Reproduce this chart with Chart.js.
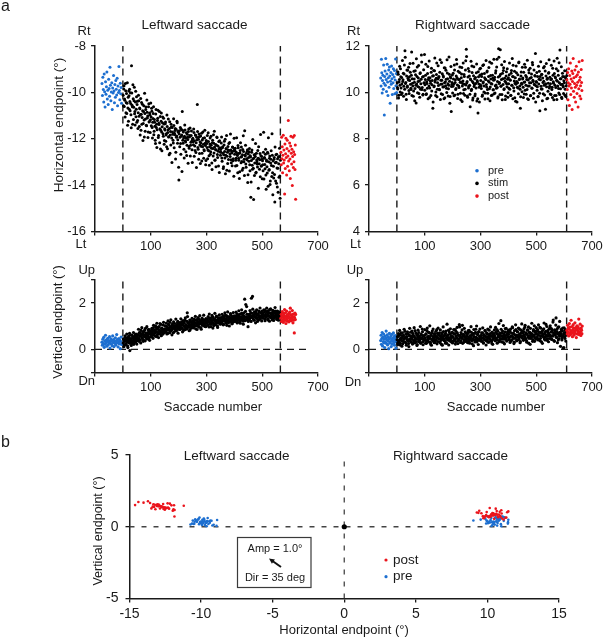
<!DOCTYPE html>
<html lang="en">
<head>
<meta charset="UTF-8"/>
<title>Saccade endpoints during stimulation</title>
<style>
  html, body { margin: 0; padding: 0; background: #fff; overflow: hidden; }
  #wrap { position: relative; width: 603px; height: 640px; overflow: hidden; }
  #wrap canvas { position: absolute; left: 0; top: 0; }
</style>
</head>
<body>
<div id="wrap">
  <canvas id="cTL" width="660" height="640"></canvas>
  <canvas id="cTR" width="660" height="640"></canvas>
  <canvas id="cBL" width="660" height="640"></canvas>
  <canvas id="cBR" width="660" height="640"></canvas>
  <canvas id="cB" width="660" height="640"></canvas>
</div>
<script src="https://cdn.jsdelivr.net/npm/chart.js@4.4.1/dist/chart.umd.min.js"></script>
<script>
// ---- data: saccade numbers (first + step per saccade) and endpoints (deg) ----
const leftPreStart = -75, leftPreStep = 1.6;
const leftOddStart = 1, leftEvenStart = 2, stimStep = 2;
const leftPostStart = 567, leftPostStep = 1.2;
const rightPreStart = -58, rightPreStep = 1.3;
const rightOddStart = 1, rightEvenStart = 2;
const rightPostStart = 610, rightPostStep = 1.25;
const leftDividers = [0, 565];
const rightDividers = [0, 609];
const zeroLineX = [-100, 670];

const leftPreH = [-9.62,-10.14,-9.35,-9.88,-10.41,-9.21,-9.97,-10.63,-9.54,-10.08,-9.76,-9.12,-10.29,-9.91,-10.52,-9.43,-9.83,-10.17,-8.92,-9.69,-10.36,-9.98,-9.58,-10.74,-9.81,-10.03,-9.27,-9.94,-10.45,-9.66,-10.21,-9.49,-9.87,-10.11,-9.39,-10.58,-9.73,-10.01,-8.88,-9.92,-10.32,-9.61,-10.06,-9.79,-10.47];
const leftPreV = [0.31,0.18,0.44,0.25,0.52,0.09,0.36,0.22,0.61,0.29,0.41,0.14,0.34,0.48,0.2,0.38,0.27,0.55,0.06,0.33,0.45,0.23,0.39,0.16,0.58,0.3,0.42,0.12,0.35,0.26,0.5,0.19,0.37,0.64,0.28,0.43,0.11,0.32,0.47,0.24,0.4,0.03,0.34,0.53,0.21];

// odd-numbered stimulation saccades (1, 3, ... 565)
const leftOddH = [
  -10.12,-9.85,-10.61,-10.34,-9.62,-10.88,-10.05,-10.47,-11.42,-10.21,-9.94,-10.73,-10.39,-10.02,-10.96,-8.85,-10.55,-11.38,-10.27,-10.64,-9.78,-10.83,-10.41,-11.05,-10.19,
  -10.52,-11.21,-10.88,-10.36,-11.47,-10.71,-10.95,-11.63,-10.44,-11.08,-10.79,-11.34,-10.58,-11.92,-10.91,-11.15,-10.63,-11.44,-10.86,-11.02,-11.71,-10.49,-11.26,-10.97,-11.18,
  -11.05,-10.68,-11.52,-11.29,-10.91,-11.83,-11.17,-11.46,-12.21,-10.74,-11.38,-11.61,-11.12,-11.95,-11.33,-10.82,-11.57,-12.44,-11.24,-11.71,-11.48,-11.06,-11.89,-11.36,-12.08,
  -11.62,-11.28,-11.84,-12.35,-11.47,-11.73,-11.15,-11.91,-11.56,-12.62,-11.69,-11.38,-11.97,-11.52,-11.81,-12.18,-11.43,-11.76,-11.64,-12.87,-11.59,-11.88,-11.31,-12.04,-11.72,
  -13.78,-11.66,-11.93,-12.21,-11.58,-11.84,-10.82,-12.06,-11.71,-12.45,-11.89,-11.62,-12.14,-11.97,-12.72,-11.81,-12.03,-11.69,-12.33,-11.92,-11.54,-12.28,-11.86,-12.11,-13.02,
  -11.98,-12.26,-11.73,-12.09,-12.51,-11.85,-12.17,-11.94,-10.52,-12.38,-12.02,-11.79,-12.64,-12.13,-11.88,-12.32,-12.96,-12.05,-11.71,-12.24,-12.47,-11.96,-12.19,-13.12,-12.08,
  -12.21,-11.86,-12.48,-12.12,-12.73,-12.34,-11.97,-12.56,-12.28,-13.05,-12.17,-12.42,-11.83,-12.61,-12.36,-12.92,-12.25,-12.49,-11.92,-12.68,-12.31,-13.18,-12.43,-12.09,-12.57,
  -12.46,-12.18,-12.83,-12.39,-12.62,-13.21,-12.27,-12.55,-12.02,-12.71,-12.44,-13.36,-12.58,-12.33,-12.89,-12.51,-12.16,-12.77,-12.48,-13.04,-12.61,-12.36,-12.95,-12.53,-11.98,
  -12.67,-12.41,-12.93,-12.58,-13.15,-12.72,-12.29,-12.84,-12.63,-13.42,-12.51,-12.79,-12.36,-12.98,-12.69,-13.27,-12.55,-12.88,-11.65,-12.74,-13.09,-12.62,-12.91,-12.47,-13.55,
  -12.81,-12.56,-13.12,-12.73,-14.52,-12.94,-12.48,-13.31,-12.86,-14.62,-12.69,-13.05,-12.77,-13.48,-12.62,-12.99,-13.22,-12.84,-12.35,-13.08,-12.91,-13.64,-12.73,-13.17,-12.88,
  -12.95,-13.38,-11.72,-12.84,-13.11,-12.67,-13.56,-12.92,-13.21,-12.58,-14.05,-12.99,-13.33,-12.74,-13.82,-12.88,-13.15,-11.78,-13.47,-12.96,-13.69,-12.81,-14.73,-13.04,-12.69,-13.92,-13.26,-12.86,-14.31,-13.08,-12.77,-13.61,-12.93
];
// even-numbered stimulation saccades (2, 4, ... 564)
const leftEvenH = [
  -10.58,-9.71,-10.29,-11.06,-9.93,-10.44,-10.91,-9.58,-10.67,-11.24,-10.15,-9.86,-10.79,-10.48,-11.53,-10.03,-10.62,-9.67,-11.17,-10.36,-10.92,-11.41,-9.95,-10.73,-11.29,
  -10.38,-11.56,-10.12,-11.03,-10.67,-11.84,-10.26,-10.94,-11.37,-10.51,-12.08,-10.83,-11.19,-10.04,-11.68,-10.74,-11.42,-10.33,-11.11,-11.95,-10.62,-11.28,-10.89,-11.73,-10.46,
  -11.44,-10.81,-11.97,-11.13,-10.62,-11.68,-11.29,-12.06,-10.93,-11.52,-12.38,-11.21,-10.77,-11.86,-11.39,-12.17,-11.04,-11.63,-10.89,-12.52,-11.31,-11.78,-11.12,-12.24,-11.57,
  -11.35,-12.11,-11.78,-10.98,-12.43,-11.61,-11.92,-12.69,-11.27,-11.84,-12.27,-11.49,-13.02,-11.71,-12.06,-11.14,-12.39,-11.83,-11.56,-12.58,-11.93,-11.25,-12.19,-11.68,-13.23,
  -11.79,-12.34,-11.52,-12.67,-11.88,-13.41,-11.63,-12.19,-11.97,-12.83,-11.41,-12.09,-12.56,-11.74,-12.28,-11.93,-13.06,-11.58,-12.41,-11.86,-12.74,-12.15,-11.67,-12.47,-12.02,
  -12.13,-11.58,-12.76,-12.31,-11.84,-12.59,-13.24,-12.04,-11.69,-12.45,-12.88,-11.91,-12.27,-13.07,-12.18,-11.76,-12.63,-12.35,-11.98,-12.84,-12.52,-11.63,-12.29,-12.94,-12.11,
  -12.38,-12.86,-11.74,-12.52,-13.14,-12.23,-12.67,-11.89,-12.41,-13.33,-12.07,-12.74,-12.19,-11.68,-12.93,-12.46,-13.21,-12.28,-11.95,-12.81,-12.54,-12.12,-13.46,-12.39,-12.71,
  -12.58,-11.92,-12.97,-12.34,-13.28,-12.69,-12.11,-12.83,-13.51,-12.42,-11.86,-12.76,-13.07,-12.49,-12.21,-13.39,-12.65,-11.79,-12.91,-12.53,-13.16,-12.37,-12.86,-13.62,-12.44,
  -12.52,-13.18,-12.84,-11.96,-12.67,-13.47,-12.39,-12.93,-13.71,-12.61,-12.17,-13.04,-12.78,-13.36,-12.46,-11.87,-12.99,-13.58,-12.71,-12.28,-13.23,-12.86,-12.54,-13.89,-12.66,
  -12.97,-12.42,-13.38,-12.79,-13.86,-12.58,-13.14,-12.03,-13.27,-12.83,-13.59,-12.68,-12.21,-13.45,-12.92,-13.09,-12.51,-14.13,-12.86,-13.31,-12.64,-11.82,-13.18,-12.77,-13.72,
  -13.12,-12.58,-13.74,-12.81,-13.29,-12.45,-14.18,-12.97,-13.48,-12.63,-11.96,-13.36,-12.84,-13.97,-13.05,-12.52,-13.63,-12.71,-14.41,-13.19,-12.88,-13.54,-12.36,-13.82,-13.01,-12.67,-14.08,-13.27,-12.79,-13.66,-12.41,-14.57
];
const leftOddV = [
  0.28,0.41,0.19,0.35,0.52,0.24,0.38,0.46,0.15,0.33,0.57,0.29,-0.05,0.44,0.36,0.61,0.27,0.49,0.39,0.22,0.55,0.43,0.31,0.66,0.47,
  0.52,0.38,0.64,0.47,0.73,0.56,0.41,0.82,0.59,0.49,0.68,0.35,0.77,0.61,0.54,0.91,0.63,0.46,0.72,0.58,0.85,0.66,0.51,0.79,0.69,
  0.74,0.58,0.86,0.69,0.93,0.62,0.81,0.71,1.02,0.77,0.55,0.88,0.73,0.96,0.67,0.84,1.12,0.79,0.64,0.91,0.76,0.83,1.05,0.72,0.87,
  0.89,0.74,1.01,0.83,0.95,0.69,1.08,0.86,0.92,1.17,0.78,0.97,0.84,1.04,0.91,0.72,0.99,1.13,0.87,0.94,0.81,1.06,0.96,1.21,0.89,
  0.98,1.11,0.86,1.03,0.94,1.19,0.91,1.07,0.82,1.14,0.99,1.26,0.93,1.05,0.88,1.58,1.01,1.16,0.95,1.09,0.84,1.22,1.03,0.97,1.13,
  1.08,0.93,1.21,1.04,1.15,0.89,1.27,1.11,1.02,1.34,1.17,0.96,1.09,1.23,1.13,0.87,1.19,1.06,1.29,1.14,1.01,1.25,1.12,0.98,1.18,
  1.16,1.28,1.04,1.21,0.97,1.33,1.14,1.25,1.09,1.38,1.19,0.92,1.27,1.12,1.31,1.06,1.24,1.41,1.17,1.02,1.29,1.15,1.36,1.22,1.11,
  1.26,1.12,1.35,1.21,1.43,1.08,1.31,1.24,1.47,1.18,1.29,1.04,1.38,1.27,1.15,1.42,1.33,1.21,1.51,1.25,1.11,1.36,1.28,1.19,1.45,
  1.32,1.21,1.44,1.29,1.53,1.17,1.38,1.26,1.49,1.34,1.13,1.41,1.28,1.56,1.35,1.22,1.46,1.31,2.17,1.39,1.94,1.27,1.52,1.36,0.98,
  1.41,1.29,1.52,1.37,1.58,2.21,1.44,2.29,1.33,1.49,1.26,1.55,1.42,1.63,1.35,1.47,1.21,1.53,1.39,1.61,1.45,1.31,1.57,1.43,1.66,
  1.48,1.36,1.59,1.44,1.69,1.31,1.52,1.41,1.63,1.47,1.27,1.56,1.43,1.72,1.38,1.54,1.49,1.34,1.61,1.46,1.25,1.57,1.42,1.66,1.51,1.37,1.59,1.45,1.33,1.62,1.48,1.41,1.55
];
const leftEvenV = [
  0.45,0.12,0.37,0.58,0.21,0.43,0.66,0.31,0.08,0.51,0.39,0.69,0.26,0.47,0.17,0.62,0.34,0.55,0.73,0.29,0.48,0.64,0.36,0.57,0.23,
  0.63,0.44,0.87,0.35,0.59,0.71,0.28,0.66,0.94,0.49,0.76,0.41,0.58,0.83,0.37,0.69,0.52,0.98,0.6,0.45,0.74,0.86,0.39,0.67,0.55,
  0.62,0.91,0.79,0.48,1.04,0.68,0.83,0.57,0.95,0.75,1.13,0.64,0.87,0.51,0.99,0.78,0.69,1.08,0.59,0.92,0.81,0.66,1.17,0.74,0.85,
  1.02,0.79,1.14,0.67,0.94,1.23,0.83,1.05,0.72,0.97,1.28,0.85,0.63,1.1,0.92,1.19,0.76,1.03,0.88,1.31,0.81,0.99,1.15,0.7,1.07,
  0.87,1.16,1.04,1.32,0.91,1.09,0.76,1.24,1.01,1.18,0.85,1.36,1.07,0.94,1.21,1.42,0.99,1.13,0.81,1.27,1.05,1.19,0.92,1.34,1.11,
  1.22,0.97,1.31,1.14,1.43,1.02,1.26,0.86,1.19,1.37,1.08,1.29,1.46,1.12,0.94,1.24,1.35,1.05,1.18,1.48,1.09,1.27,0.99,1.33,1.16,
  1.31,1.07,1.42,1.19,1.53,1.1,1.34,0.98,1.26,1.47,1.15,1.38,1.03,1.29,1.56,1.21,1.12,1.44,1.27,0.95,1.36,1.18,1.49,1.24,1.09,
  1.37,1.16,1.52,1.29,1.06,1.41,1.24,1.58,1.33,1.13,1.46,1.27,1.62,1.19,1.39,1.01,1.35,1.55,1.22,1.44,1.11,1.31,1.59,1.26,1.4,
  1.43,1.25,1.61,1.36,1.14,1.5,1.31,1.67,1.4,1.19,1.54,1.33,1.71,1.28,1.47,1.09,1.58,1.37,1.24,1.64,1.41,1.85,1.3,1.52,1.21,
  1.49,1.32,1.68,1.43,1.21,1.57,1.38,1.74,1.46,1.27,1.62,1.4,1.15,1.55,1.71,1.34,1.51,1.26,1.66,1.44,1.79,1.37,1.59,1.23,1.48,
  1.53,1.35,1.71,1.46,1.24,1.64,1.42,1.78,1.5,1.31,1.67,1.44,1.22,1.58,1.75,1.39,1.55,1.28,1.69,1.47,1.36,1.62,1.81,1.43,1.57,1.3,1.65,1.49,1.26,1.6,1.38,1.52
];

const leftPostH = [-12.58,-13.12,-11.93,-12.86,-12.34,-13.47,-12.71,-11.85,-13.05,-12.49,-12.92,-14.38,-12.23,-13.28,-12.65,-11.98,-12.81,-13.56,-12.42,-12.07,-13.19,-12.74,-11.21,-12.96,-12.53,-13.38,-12.18,-12.87,-13.71,-12.31,-11.89,-12.62,-13.09,-12.45,-14.02,-12.77,-11.94,-13.24,-12.56,-12.99,-11.86,-12.68,-13.33,-12.27,-14.61];
const leftPostV = [1.35,1.52,1.21,1.44,1.63,1.28,1.41,1.17,1.56,1.33,1.47,1.72,1.25,1.38,1.59,1.12,1.43,1.66,1.3,1.49,1.22,1.37,1.46,1.54,1.19,1.4,1.61,1.27,1.78,1.34,1.5,1.24,1.45,1.31,1.68,1.39,1.15,1.53,1.26,1.42,0.71,1.36,1.57,1.29,1.51];

const rightPreH = [10.62,10.27,11.43,10.85,9.97,10.51,10.74,10.13,11.18,10.39,9.02,10.68,10.92,10.31,11.46,10.56,10.04,10.79,11.21,10.45,9.86,10.63,10.97,10.22,11.09,10.71,9.53,10.48,10.86,10.35,11.14,10.59,9.91,10.77,10.41,11.02,10.17,10.66,10.94,9.94,10.53,11.44,10.29,10.81,9.99];
const rightPreV = [0.38,0.61,0.22,0.47,0.73,0.15,0.52,0.34,0.66,0.28,0.44,0.08,0.57,0.31,0.49,0.79,0.25,0.42,0.63,0.19,0.54,0.36,0.03,0.46,0.69,0.27,0.5,0.33,0.58,0.12,0.41,0.65,0.23,0.48,0.37,0.71,0.29,0.55,0.18,0.43,0.6,0.32,0.05,0.51,0.39];

// odd-numbered (1 ... 609) and even-numbered (2 ... 608) stimulation saccades
const rightOddH = [
  10.42,10.15,10.78,9.88,10.56,10.31,11.02,10.19,10.64,9.97,10.47,10.83,10.26,11.18,11.79,10.38,9.92,10.71,10.22,10.95,10.53,10.08,10.67,11.24,10.35,
  10.12,11.74,10.59,10.28,9.83,10.91,10.44,10.17,10.76,9.54,10.36,11.09,10.25,10.62,9.95,10.49,10.81,10.13,10.57,11.31,10.21,9.89,10.68,10.4,11.63,
  10.33,10.74,9.91,10.46,10.18,11.12,10.55,10.27,9.78,10.63,10.39,10.87,10.06,10.51,9.31,10.72,10.24,10.93,10.45,9.86,10.61,11.27,10.14,10.58,10.3,
  10.69,10.11,11.41,10.35,9.94,10.52,10.8,10.23,10.66,9.73,10.41,11.05,10.29,10.57,9.99,10.84,10.37,10.16,11.53,10.48,9.82,10.62,9.17,10.34,10.75,
  10.26,10.58,9.85,10.97,10.43,10.12,10.71,11.22,10.32,9.92,10.55,10.21,10.86,10.44,9.68,10.63,11.07,10.28,10.49,9.95,10.77,10.35,10.14,11.36,11.86,
  10.42,9.84,10.66,10.19,10.91,10.31,9.38,10.54,10.08,11.14,10.47,9.76,10.72,10.25,10.59,9.93,10.38,10.85,9.63,10.46,9.11,10.67,10.22,11.01,10.33,
  10.51,10.17,10.79,9.89,10.4,11.19,10.27,10.63,9.97,10.56,10.34,10.88,10.12,9.72,10.69,10.45,11.31,10.23,10.58,9.86,10.36,10.74,10.11,10.52,9.94,
  10.65,10.29,10.93,10.18,11.43,10.47,9.81,11.88,10.38,10.71,11.84,10.26,10.55,9.91,10.82,10.34,11.06,10.16,10.61,9.69,10.43,10.89,10.24,10.57,9.98,
  10.37,10.76,10.13,10.52,9.88,10.94,10.31,10.68,11.17,10.2,10.49,9.77,10.63,10.35,10.85,9.59,10.42,10.19,11.28,10.56,10.28,9.31,10.71,10.39,10.03,
  10.58,10.22,10.87,9.93,10.45,11.08,10.31,10.66,10.12,9.72,10.53,10.96,10.27,10.61,9.85,10.41,10.79,10.18,11.19,10.47,9.96,10.35,10.73,11.68,10.29,
  10.44,10.09,10.68,9.82,10.36,10.91,9.21,10.54,10.26,10.77,10.15,10.62,9.94,10.48,11.12,10.33,9.27,10.71,10.24,10.57,9.75,10.39,10.86,10.19,10.65,
  10.37,9.91,10.58,10.22,11.04,10.46,9.68,10.81,10.31,10.63,9.86,10.52,11.47,10.28,10.74,9.97,10.41,11.83,10.16,10.59,9.79,10.35,10.69,10.23,10.5,
  10.41,9.88,10.63,10.29,10.72
];
const rightEvenH = [
  10.21,10.88,9.76,10.45,11.13,10.02,10.67,9.91,10.36,11.37,10.54,9.83,10.79,10.14,11.52,10.43,9.69,10.96,10.28,10.61,11.08,9.95,10.51,10.87,10.18,
  10.74,9.87,10.39,11.26,10.06,10.58,9.64,10.93,10.31,11.45,10.69,9.98,10.47,11.16,10.22,9.79,10.85,10.37,11.61,10.12,10.66,9.92,10.98,10.42,10.09,
  10.56,11.21,9.94,10.38,10.81,9.72,10.63,11.35,10.19,10.49,9.86,11.04,10.33,10.71,9.58,10.94,10.27,11.48,10.53,10.02,10.77,9.81,10.41,11.15,10.64,
  10.13,10.87,9.69,10.52,11.29,10.36,9.91,10.72,10.24,11.06,9.77,10.46,10.95,10.18,11.41,10.59,9.84,10.31,10.78,9.53,10.67,11.12,10.25,10.43,9.97,
  10.82,10.35,11.18,9.89,10.54,10.17,11.42,10.63,9.74,10.91,10.28,10.56,11.09,9.96,10.44,10.79,9.61,10.38,11.27,10.11,10.68,9.88,10.97,10.32,11.55,
  10.47,9.79,11.03,10.26,10.71,9.92,10.58,11.34,10.14,10.86,9.67,10.42,11.11,10.33,9.85,10.64,10.19,11.22,10.51,9.73,10.89,10.36,9.58,10.75,11.04,
  10.29,10.68,9.83,11.16,10.45,10.02,10.81,9.71,10.57,11.38,10.23,10.92,9.96,10.49,11.07,10.16,9.64,10.73,10.38,11.26,9.89,10.61,10.11,11.43,10.55,
  9.97,10.84,10.32,11.09,10.21,9.76,10.66,11.52,10.43,9.91,10.78,10.27,11.19,9.68,10.59,10.94,10.12,11.33,10.48,9.84,10.71,10.37,11.02,9.79,10.63,
  10.18,11.27,10.54,9.86,10.83,10.31,11.46,9.73,10.67,10.06,10.91,10.39,9.62,11.14,10.47,10.22,10.76,9.94,11.31,10.58,10.13,9.81,10.88,10.35,11.08,
  10.62,9.78,10.44,11.21,10.09,10.73,9.92,10.56,11.39,10.27,9.69,10.85,10.41,11.04,9.87,10.64,10.19,11.29,10.52,9.75,10.96,10.33,10.71,9.58,10.47,
  10.86,10.24,9.81,11.13,10.57,9.96,10.69,11.32,10.15,10.78,9.64,10.43,11.06,10.31,9.89,10.92,10.37,11.24,9.72,10.61,10.05,10.83,11.41,10.26,9.93,
  10.55,11.17,10.12,9.78,10.74,10.39,11.35,9.86,10.66,10.21,11.02,9.69,10.48,10.93,10.17,11.28,9.91,10.59,10.34,11.11,9.74,10.82,10.28,9.95,10.67,
  10.93,10.14,9.82,10.58
];
const rightOddV = [
  0.42,0.28,0.57,0.35,0.63,0.19,0.48,0.71,0.38,0.52,0.24,0.61,0.45,0.33,0.78,0.5,0.29,0.55,0.41,0.67,0.36,0.12,0.59,0.46,0.74,
  0.31,0.53,0.44,0.69,0.26,0.58,0.39,0.81,0.47,0.34,0.62,0.21,0.55,0.43,0.73,0.37,0.51,0.28,0.65,0.46,0.88,0.33,0.57,0.4,0.6,
  0.49,0.27,0.66,0.38,0.92,0.45,0.56,0.32,0.71,0.5,0.23,0.61,0.43,0.79,0.36,0.54,0.47,0.68,0.3,0.58,0.41,0.85,0.52,0.34,0.63,
  0.46,0.72,0.29,0.57,0.4,0.64,0.18,0.53,0.77,0.44,0.6,0.35,0.69,0.48,0.26,0.59,0.42,0.83,0.51,0.37,0.66,0.45,0.55,0.31,0.74,
  0.52,0.38,0.67,0.44,0.86,0.33,0.58,0.49,0.71,0.25,0.61,0.43,0.97,0.54,0.36,0.65,0.47,1.04,0.56,0.3,0.62,0.41,0.76,0.5,0.39,
  0.58,0.34,0.7,0.45,0.82,0.27,0.6,0.51,0.74,0.38,0.63,0.47,0.16,0.55,0.69,0.41,0.87,0.52,0.32,0.64,0.46,0.75,0.39,0.57,0.49,
  0.44,0.61,0.35,0.72,0.5,0.28,0.59,0.42,0.79,0.53,0.37,0.66,0.46,0.31,0.57,0.83,0.48,0.62,0.39,0.7,0.25,0.55,0.43,0.68,0.51,
  0.6,0.37,0.74,0.49,0.86,0.41,0.64,0.55,0.33,0.71,0.47,1.24,0.58,0.44,0.79,0.52,0.29,0.67,0.56,0.9,0.45,0.62,0.38,0.75,0.53,
  0.65,0.42,0.81,0.54,0.36,0.72,0.59,0.94,0.47,0.68,0.31,0.63,0.5,0.85,0.57,0.4,0.76,0.61,0.45,0.89,0.55,0.34,0.7,0.52,0.8,
  0.58,0.43,0.77,0.63,0.96,0.49,0.71,0.38,0.66,0.84,0.54,0.27,0.73,0.6,0.91,0.47,0.68,0.56,0.35,0.79,0.62,1.02,0.51,0.74,0.44,
  0.67,0.52,0.86,0.41,0.73,0.6,0.95,0.48,0.7,0.33,0.78,0.57,0.64,0.89,0.45,0.72,0.54,1.08,0.62,0.39,0.81,0.58,0.69,0.47,0.93,
  0.61,0.76,0.44,0.84,0.57,1.27,0.68,0.35,0.79,0.63,1.36,0.52,0.88,0.7,0.41,0.97,0.59,0.74,0.13,0.66,0.82,0.5,0.92,0.58,0.08,
  0.71,0.47,0.86,0.62,0.77
];
const rightEvenV = [
  0.55,0.21,0.68,0.39,0.82,0.27,0.61,0.46,0.14,0.72,0.35,0.58,0.87,0.31,0.49,0.66,0.18,0.53,0.76,0.42,0.25,0.63,0.91,0.37,0.57,
  0.48,0.79,0.23,0.61,0.36,0.94,0.52,0.29,0.71,0.45,0.17,0.65,0.83,0.33,0.56,0.41,0.99,0.27,0.62,0.5,0.76,0.2,0.58,0.44,0.85,
  0.39,0.67,0.26,0.81,0.53,0.35,0.74,0.47,1.02,0.31,0.6,0.18,0.7,0.43,0.88,0.55,0.29,0.64,0.4,0.78,0.51,0.24,0.69,0.92,0.46,
  0.61,0.33,0.84,0.5,0.22,0.72,0.44,0.97,0.57,0.38,0.66,0.27,0.79,0.52,1.09,0.41,0.63,0.19,0.75,0.48,0.89,0.35,0.59,0.71,0.28,
  0.54,0.86,0.4,0.67,0.23,0.78,0.49,0.95,0.36,0.62,0.45,1.07,0.58,0.3,0.73,0.51,0.84,0.26,0.65,0.42,0.91,0.55,0.34,0.7,0.47,
  0.63,0.29,0.81,0.52,0.37,0.76,0.45,0.98,0.6,0.24,0.69,0.41,0.86,0.54,0.32,0.74,0.5,1.01,0.39,0.66,0.21,0.77,0.47,0.88,0.57,
  0.36,0.72,0.49,0.93,0.28,0.64,0.43,0.82,0.56,0.19,0.71,0.4,0.88,0.53,0.31,0.67,0.46,0.97,0.59,0.34,0.75,0.22,0.62,0.48,0.84,
  0.52,0.95,0.41,0.68,0.27,0.79,0.55,1.12,0.38,0.63,0.46,0.87,0.32,0.71,0.58,1.03,0.44,0.24,0.76,0.5,0.91,0.36,0.67,0.55,0.83,
  0.47,0.74,0.3,0.88,0.59,0.4,0.97,0.53,0.69,0.25,0.81,0.48,1.06,0.62,0.37,0.77,0.55,0.92,0.43,0.66,0.29,0.84,0.58,1.1,0.51,
  0.72,0.39,0.89,0.56,1.04,0.45,0.67,0.31,0.83,0.6,0.97,0.48,0.75,0.22,0.69,0.53,1.13,0.64,0.42,0.86,0.57,0.35,0.79,0.66,0.94,
  0.5,0.81,0.63,1.06,0.44,0.75,0.37,0.92,0.58,0.71,0.26,0.85,0.54,1.14,0.67,0.41,0.78,0.6,0.99,0.47,0.73,0.33,0.88,0.62,1.02,
  0.56,0.9,0.43,0.74,1.18,0.61,0.38,0.84,0.69,1.05,0.52,0.77,0.29,0.95,0.64,0.47,1.21,0.72,0.58,0.87,0.41,0.79,0.06,0.66,0.93,
  0.54,0.82,0.36,0.71
];

const rightPostH = [10.54,10.12,10.86,9.68,10.41,11.02,10.27,9.43,10.73,10.35,11.27,9.91,10.58,10.19,10.92,9.26,10.47,10.81,11.46,10.05,10.63,9.79,10.38,10.97,10.22,9.58,10.69,11.13,10.31,9.95,10.76,10.44,9.37,10.88,10.16,11.32,10.52,9.84,10.65,10.29,9.72,10.99,10.43,10.08,11.38];
const rightPostV = [0.82,0.67,1.04,0.74,0.93,0.58,0.87,1.12,0.71,0.96,0.63,0.81,1.26,0.77,0.69,0.99,0.55,0.85,1.07,0.73,0.91,0.62,0.79,1.15,0.7,0.94,0.84,0.51,0.88,1.02,0.66,0.8,0.97,0.75,1.31,0.64,0.89,0.72,1.09,0.78,0.6,0.92,0.83,0.68,1.01];

const fixationX = [0], fixationY = [0];

// axis ranges and ticks
const saccadeRange = [-100, 700];
const saccadeTicks = [-100, 100, 300, 500, 700];
const leftHRange = [-16, -8], leftHTicks = [-16, -14, -12, -10, -8];
const rightHRange = [4, 12], rightHTicks = [4, 6, 8, 10, 12];
const vertRange = [-1, 3], vertTicks = [-1, 0, 2, 3];
const bHRange = [-15, 15], bHTicks = [-15, -10, -5, 0, 5, 10, 15];
const bVRange = [-5, 5], bVTicks = [-5, 0, 5];
const legendLabels = ['pre', 'stim', 'post'];

// ---- style ----
const FONT = "'Liberation Sans', Arial, sans-serif";
const BLUE = '#1d6fd0', RED = '#ea141c', BLACK = '#000', INK = '#1a1a1a';

const seq = (start, step, ys) => ys.map((y, i) => ({x: start + i * step, y}));
const pairs = (xs, ys) => xs.map((x, i) => ({x, y: ys[i]}));
const vline = (x, r) => [{x, y: r[0]}, {x, y: r[1]}];
const hline = (xs, y) => [{x: xs[0], y}, {x: xs[1], y}];

function dots(data, color, r, order) {
  return {data, backgroundColor: color, borderWidth: 0, pointRadius: r, pointHoverRadius: r, showLine: false, order};
}
function dash(data, color, pattern, w) {
  return {data, borderColor: color, borderWidth: w, borderDash: pattern, pointRadius: 0, showLine: true, fill: false, order: 10};
}

function axis(range, ticks, hide, isX, o) {
  return {
    type: 'linear', min: range[0], max: range[1],
    afterBuildTicks: s => { s.ticks = ticks.map(v => ({value: v})); },
    afterFit: s => { if (isX) s.height = 30; else s.width = 40; },
    grid: {display: true, drawOnChartArea: false, drawTicks: true, tickLength: 4, color: INK, lineWidth: 1.3},
    border: {display: true, color: INK, width: 1.5},
    ticks: {
      color: INK, font: {family: FONT, size: o.size}, padding: o.pad,
      maxRotation: 0, autoSkip: false,
      callback: v => hide.includes(v) ? '' : String(v)
    }
  };
}

const notes = {
  id: 'notes',
  afterDraw(chart, args, opts) {
    const ctx = chart.ctx;
    (opts.items || []).forEach(n => {
      ctx.save();
      ctx.font = (n.size || 13) + 'px ' + FONT;
      ctx.fillStyle = n.color || INK;
      ctx.textAlign = n.align || 'center';
      ctx.textBaseline = 'middle';
      ctx.translate(n.x, n.y);
      if (n.rot) ctx.rotate(n.rot * Math.PI / 180);
      ctx.fillText(n.t, 0, 0);
      ctx.restore();
    });
    (opts.keys || []).forEach(k => {
      ctx.beginPath();
      ctx.fillStyle = k.color;
      ctx.arc(k.x, k.y, k.r, 0, Math.PI * 2);
      ctx.fill();
    });
    if (opts.box) {
      const b = opts.box;
      ctx.save();
      ctx.strokeStyle = '#3a3a3a';
      ctx.lineWidth = 1.2;
      ctx.strokeRect(b.x, b.y, b.w, b.h);
      const a = opts.arrow;
      const ang = Math.atan2(a.y2 - a.y1, a.x2 - a.x1);
      ctx.strokeStyle = '#111';
      ctx.fillStyle = '#111';
      ctx.lineWidth = 2;
      ctx.beginPath();
      ctx.moveTo(a.x1, a.y1);
      ctx.lineTo(a.x2 - 3 * Math.cos(ang), a.y2 - 3 * Math.sin(ang));
      ctx.stroke();
      ctx.beginPath();
      ctx.moveTo(a.x2, a.y2);
      ctx.lineTo(a.x2 - 6 * Math.cos(ang - 0.45), a.y2 - 6 * Math.sin(ang - 0.45));
      ctx.lineTo(a.x2 - 6 * Math.cos(ang + 0.45), a.y2 - 6 * Math.sin(ang + 0.45));
      ctx.closePath();
      ctx.fill();
      ctx.restore();
    }
  }
};

// area = [left, right, top, bottom] of the plot box on the page
function makeChart(id, area, scales, datasets, notesOpts) {
  const W = 660, H = 640;
  return new Chart(document.getElementById(id), {
    type: 'scatter',
    data: {datasets},
    options: {
      responsive: false, animation: false, devicePixelRatio: 1, events: [],
      layout: {padding: {left: area[0] - 40, right: W - area[1], top: area[2], bottom: H - area[3] - 30}},
      scales,
      plugins: {legend: {display: false}, tooltip: {enabled: false}, notes: notesOpts}
    },
    plugins: [notes]
  });
}

const xTop = {size: 13, pad: 3};
const yTop = {size: 13, pad: 5};
const DASH_A = [7, 5];
const R_H = 1.5, R_V = 1.6;

// a, leftward, horizontal endpoint
makeChart('cTL', [95, 318, 46, 231.5], {
  x: axis(saccadeRange, saccadeTicks, [-100], true, xTop),
  y: axis(leftHRange, leftHTicks, [], false, yTop)
}, [
  dots(seq(leftPreStart, leftPreStep, leftPreH), BLUE, R_H, 3),
  dots(seq(leftOddStart, stimStep, leftOddH), BLACK, R_H, 2),
  dots(seq(leftEvenStart, stimStep, leftEvenH), BLACK, R_H, 2),
  dots(seq(leftPostStart, leftPostStep, leftPostH), RED, R_H, 1),
  dash(vline(leftDividers[0], leftHRange), INK, DASH_A, 1.4),
  dash(vline(leftDividers[1], leftHRange), INK, DASH_A, 1.4)
], {items: [
  {t: 'a', x: 1, y: 7, size: 16, align: 'left'},
  {t: 'Leftward saccade', x: 194.5, y: 25, size: 13.5},
  {t: 'Rt', x: 84, y: 31},
  {t: 'Lt', x: 81, y: 244.5},
  {t: 'Horizontal endpoint (°)', x: 59, y: 125, size: 13.5, rot: -90}
]});

// a, rightward, horizontal endpoint
makeChart('cTR', [369, 592, 46, 231.5], {
  x: axis(saccadeRange, saccadeTicks, [-100], true, xTop),
  y: axis(rightHRange, rightHTicks, [], false, yTop)
}, [
  dots(seq(rightPreStart, rightPreStep, rightPreH), BLUE, R_H, 3),
  dots(seq(rightOddStart, stimStep, rightOddH), BLACK, R_H, 2),
  dots(seq(rightEvenStart, stimStep, rightEvenH), BLACK, R_H, 2),
  dots(seq(rightPostStart, rightPostStep, rightPostH), RED, R_H, 1),
  dash(vline(rightDividers[0], rightHRange), INK, DASH_A, 1.4),
  dash(vline(rightDividers[1], rightHRange), INK, DASH_A, 1.4)
], {
  items: [
    {t: 'Rightward saccade', x: 472.5, y: 25, size: 13.5},
    {t: 'Rt', x: 353.5, y: 31},
    {t: 'Lt', x: 355.5, y: 244.5}
  ].concat(legendLabels.map((t, i) => ({t, x: 488, y: 170.7 + i * 12.7, size: 11, align: 'left'}))),
  keys: [BLUE, BLACK, RED].map((color, i) => ({color, x: 477, y: 170.7 + i * 12.7, r: 1.8}))
});

// a, leftward, vertical endpoint
makeChart('cBL', [95, 318, 280, 372.5], {
  x: axis(saccadeRange, saccadeTicks, [-100], true, xTop),
  y: axis(vertRange, vertTicks, [-1, 3], false, yTop)
}, [
  dots(seq(leftPreStart, leftPreStep, leftPreV), BLUE, R_V, 3),
  dots(seq(leftOddStart, stimStep, leftOddV), BLACK, R_V, 2),
  dots(seq(leftEvenStart, stimStep, leftEvenV), BLACK, R_V, 2),
  dots(seq(leftPostStart, leftPostStep, leftPostV), RED, R_V, 1),
  dash(vline(leftDividers[0], vertRange), INK, DASH_A, 1.4),
  dash(vline(leftDividers[1], vertRange), INK, DASH_A, 1.4),
  dash(hline(zeroLineX, 0), INK, DASH_A, 1.4)
], {items: [
  {t: 'Up', x: 86.7, y: 270},
  {t: 'Dn', x: 86.7, y: 381.5},
  {t: 'Vertical endpoint (°)', x: 58, y: 322, rot: -90},
  {t: 'Saccade number', x: 213, y: 407}
]});

// a, rightward, vertical endpoint
makeChart('cBR', [369, 592, 280, 372.5], {
  x: axis(saccadeRange, saccadeTicks, [-100], true, xTop),
  y: axis(vertRange, vertTicks, [-1, 3], false, yTop)
}, [
  dots(seq(rightPreStart, rightPreStep, rightPreV), BLUE, R_V, 3),
  dots(seq(rightOddStart, stimStep, rightOddV), BLACK, R_V, 2),
  dots(seq(rightEvenStart, stimStep, rightEvenV), BLACK, R_V, 2),
  dots(seq(rightPostStart, rightPostStep, rightPostV), RED, R_V, 1),
  dash(vline(rightDividers[0], vertRange), INK, DASH_A, 1.4),
  dash(vline(rightDividers[1], vertRange), INK, DASH_A, 1.4),
  dash(hline(zeroLineX, 0), INK, DASH_A, 1.4)
], {items: [
  {t: 'Up', x: 355, y: 270},
  {t: 'Dn', x: 353, y: 382},
  {t: 'Saccade number', x: 496, y: 407}
]});

// b, endpoint positions before and after stimulation
makeChart('cB', [129.5, 559, 455, 598.5], {
  x: axis(bHRange, bHTicks, [], true, {size: 14, pad: 3}),
  y: axis(bVRange, bVTicks, [], false, {size: 14, pad: 7})
}, [
  dots(pairs(leftPostH, leftPostV), RED, 1.3, 2),
  dots(pairs(rightPostH, rightPostV), RED, 1.3, 2),
  dots(pairs(leftPreH, leftPreV), BLUE, 1.3, 3),
  dots(pairs(rightPreH, rightPreV), BLUE, 1.3, 3),
  dots(pairs(fixationX, fixationY), BLACK, 2.6, 1),
  dash(hline([bHRange[0], 14.7], 0), '#444', [5, 7], 1.3),
  dash(vline(0, bVRange), '#444', [5, 7], 1.3)
], {
  items: [
    {t: 'b', x: 1, y: 443, size: 16, align: 'left'},
    {t: 'Leftward saccade', x: 236.7, y: 456.7, size: 13.5},
    {t: 'Rightward saccade', x: 450.5, y: 456.7, size: 13.5},
    {t: 'Vertical endpoint (°)', x: 99, y: 531, size: 12.5, rot: -90},
    {t: 'Horizontal endpoint (°)', x: 344, y: 630, size: 13},
    {t: 'post', x: 393, y: 560, size: 13.5, align: 'left'},
    {t: 'pre', x: 393, y: 576.7, size: 13.5, align: 'left'},
    {t: 'Amp = 1.0°', x: 275, y: 549, size: 11},
    {t: 'Dir = 35 deg', x: 275, y: 578.3, size: 11}
  ],
  keys: [{color: RED, x: 386, y: 560, r: 1.6}, {color: BLUE, x: 386, y: 576.7, r: 1.6}],
  box: {x: 237.5, y: 537.5, w: 73.5, h: 50},
  arrow: {x1: 281, y1: 567, x2: 269, y2: 558.5}
});
</script>
</body>
</html>
